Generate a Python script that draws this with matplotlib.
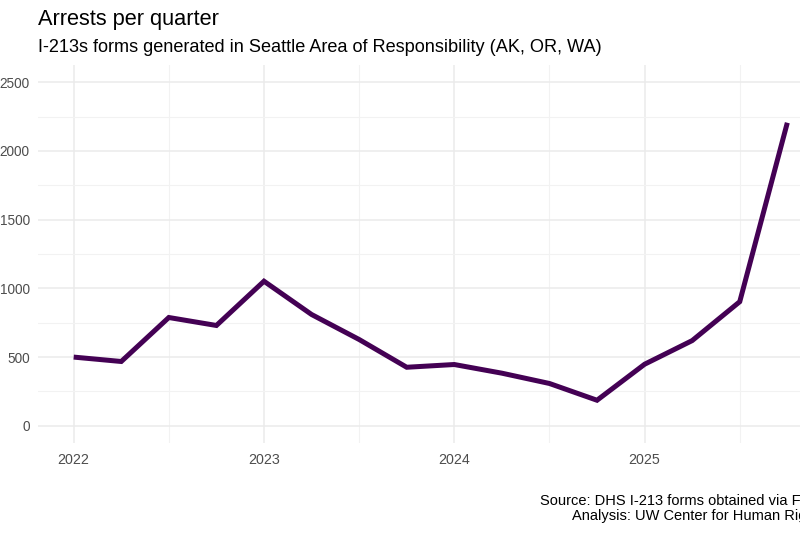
import numpy as np
import matplotlib
matplotlib.use("Agg")
from matplotlib import pyplot as plt
from matplotlib.ticker import MultipleLocator

plt.rcParams['font.family'] = ['Liberation Sans', 'DejaVu Sans']

# quarterly arrests, 2022 Q1 .. 2025 Q4
quarters = [2022.0, 2022.25, 2022.5, 2022.75,
            2023.0, 2023.25, 2023.5, 2023.75,
            2024.0, 2024.25, 2024.5, 2024.75,
            2025.0, 2025.25, 2025.5, 2025.75]
arrests = [500, 468, 788, 730,
           1052, 810, 628, 426,
           446, 383, 308, 186,
           448, 620, 903, 2205]
year_ticks = [2022, 2023, 2024, 2025]
year_labels = ["2022", "2023", "2024", "2025"]

fig = plt.figure(figsize=(8, 5.34), dpi=100)
W, H = 800, 534
# panel runs past the right edge, like the original export
ax = fig.add_axes([38 / W, 1 - 443 / H, (823 - 38) / W, (443 - 65) / H])

ax.plot(quarters, arrests, color="#440154", lw=3.6, solid_capstyle="butt",
        solid_joinstyle="miter", zorder=3)

ax.set_xlim(2022 - 0.1875, 2025.75 + 0.1875)
ax.set_ylim(-125, 2625)
ax.set_xticks(year_ticks)
ax.set_xticklabels(year_labels)
ax.xaxis.set_minor_locator(MultipleLocator(0.5))
ax.yaxis.set_major_locator(MultipleLocator(500))
ax.yaxis.set_minor_locator(MultipleLocator(250))

ax.grid(which="major", color="#EBEBEB", lw=1.1)
ax.grid(which="minor", color="#F2F2F2", lw=0.8)
ax.set_axisbelow(True)
for s in ax.spines.values():
    s.set_visible(False)
ax.tick_params(which="both", length=0)
ax.tick_params(axis="y", pad=6, labelsize=9.8, labelcolor="#4D4D4D")
ax.tick_params(axis="x", pad=7, labelsize=10.3, labelcolor="#4D4D4D")

fig.text(38 / W, 1 - 25 / H, "Arrests per quarter", fontsize=15.7,
         va="baseline", ha="left", color="black")
fig.text(38 / W, 1 - 52 / H,
         "I-213s forms generated in Seattle Area of Responsibility (AK, OR, WA)",
         fontsize=13.1, va="baseline", ha="left", color="black")
fig.text(826 / W, 1 - 520 / H,
         "Source: DHS I-213 forms obtained via FOIA\nAnalysis: UW Center for Human Rights",
         fontsize=10.5, ha="right", va="baseline", multialignment="right",
         linespacing=1.1, color="black")

fig.savefig("out.png", dpi=100)
